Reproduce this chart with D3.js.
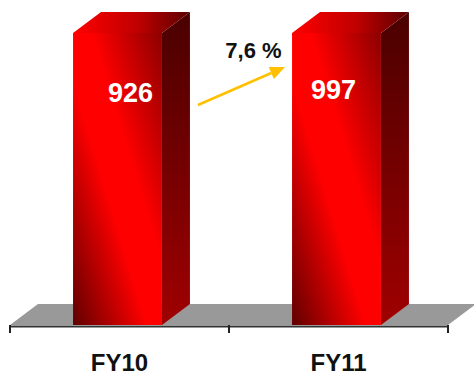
<!DOCTYPE html>
<html>
<head>
<meta charset="utf-8">
<script src="https://cdn.jsdelivr.net/npm/d3@7"></script>
<style>
  html, body { margin: 0; padding: 0; background: #fff; }
  svg { display: block; font-family: "Liberation Sans", Arial, sans-serif; }
</style>
</head>
<body>
<div id="chart"></div>
<script>
// data
var categories = ["FY10", "FY11"]
var values = [926, 997]
var valueLabels = ["926", "997"]
var growthLabel = "7,6 %"

var W = 474, H = 378
var depthX = 28, depthY = 21   // 3d offset of the back faces

var svg = d3.select("#chart")
  .append("svg")
    .attr("width", W)
    .attr("height", H)

// x: band scale over the floor, y: axis max set below both values so the bars are cut at the top
var x = d3.scaleBand()
  .domain(categories)
  .range([8, 446])
  .paddingInner(0.594)
  .paddingOuter(0.297)

var y = d3.scaleLinear()
  .domain([0, 900])
  .range([325, 33])
  .clamp(true)

var defs = svg.append("defs")

var frontGrad = defs.append("linearGradient")
    .attr("id", "gFront")
    .attr("x1", 0).attr("y1", 1).attr("x2", 1).attr("y2", 0)
frontGrad.append("stop").attr("offset", 0).attr("stop-color", "#600000")
frontGrad.append("stop").attr("offset", 0.42).attr("stop-color", "#ff0000")
frontGrad.append("stop").attr("offset", 0.6).attr("stop-color", "#ff0000")
frontGrad.append("stop").attr("offset", 1).attr("stop-color", "#8c0000")

var sideGrad = defs.append("linearGradient")
    .attr("id", "gSide")
    .attr("x1", 0).attr("y1", 0).attr("x2", 0).attr("y2", 1)
sideGrad.append("stop").attr("offset", 0).attr("stop-color", "#4a0000")
sideGrad.append("stop").attr("offset", 1).attr("stop-color", "#a00000")

var topGrad = defs.append("linearGradient")
    .attr("id", "gTop")
    .attr("x1", 0).attr("y1", 0).attr("x2", 1).attr("y2", 0)
topGrad.append("stop").attr("offset", 0).attr("stop-color", "#ff0000")
topGrad.append("stop").attr("offset", 0.55).attr("stop-color", "#c00000")
topGrad.append("stop").attr("offset", 1).attr("stop-color", "#5a0000")

// floor
var x0 = 10, x1 = 448, y0 = y(0)
svg.append("path")
  .attr("d", "M" + x0 + "," + y0 + "L" + x1 + "," + y0 +
    "L" + (x1 + depthX) + "," + (y0 - depthY) + "L" + (x0 + depthX) + "," + (y0 - depthY) + "Z")
  .attr("fill", "#999999")

// axis line and ticks at the band edges
svg.append("line")
  .attr("x1", x0).attr("x2", x1)
  .attr("y1", y0 + 1.5).attr("y2", y0 + 1.5)
  .attr("stroke", "#333").attr("stroke-width", 2)
d3.range(categories.length + 1).forEach(function(i) {
  var tx = x0 + i * (x1 - x0) / categories.length
  svg.append("line")
    .attr("x1", tx).attr("x2", tx)
    .attr("y1", y0).attr("y2", y0 + 8)
    .attr("stroke", "#222").attr("stroke-width", 2)
})

// bars
var bars = svg.selectAll("g.bar")
  .data(categories)
  .enter()
  .append("g")
    .attr("class", "bar")

bars.append("path")   // side
  .attr("d", function(d, i) {
    var r = x(d) + x.bandwidth(), t = y(values[i])
    return "M" + r + "," + y0 + "L" + (r + depthX) + "," + (y0 - depthY) +
      "L" + (r + depthX) + "," + (t - depthY) + "L" + r + "," + t + "Z"
  })
  .attr("fill", "url(#gSide)")

bars.append("path")   // top
  .attr("d", function(d, i) {
    var l = x(d), r = l + x.bandwidth(), t = y(values[i])
    return "M" + l + "," + t + "L" + r + "," + t +
      "L" + (r + depthX) + "," + (t - depthY) + "L" + (l + depthX) + "," + (t - depthY) + "Z"
  })
  .attr("fill", "url(#gTop)")

bars.append("rect")   // front
  .attr("x", function(d) { return x(d) })
  .attr("y", function(d, i) { return y(values[i]) })
  .attr("width", x.bandwidth())
  .attr("height", function(d, i) { return y0 - y(values[i]) })
  .attr("fill", "url(#gFront)")

// value labels inside the bars
var labelNudge = [[13, 1], [-3, -2]]
bars.append("text")
  .attr("x", function(d, i) { return x(d) + x.bandwidth() / 2 + labelNudge[i][0] })
  .attr("y", function(d, i) { return y(values[i]) + 68 + labelNudge[i][1] })
  .attr("text-anchor", "middle")
  .attr("fill", "#fff")
  .attr("font-weight", "bold")
  .attr("font-size", 27)
  .text(function(d, i) { return valueLabels[i] })

// category labels
svg.selectAll("text.cat")
  .data(categories)
  .enter()
  .append("text")
    .attr("class", "cat")
    .attr("x", function(d) { return x(d) + x.bandwidth() / 2 + 2 })
    .attr("y", 371)
    .attr("text-anchor", "middle")
    .attr("font-weight", "bold")
    .attr("font-size", 24)
    .attr("fill", "#111")
    .text(function(d) { return d })

// growth arrow between the bars
var ax1 = x(categories[0]) + x.bandwidth() + depthX + 8
var ay1 = y(values[0]) + 72
var ax2 = x(categories[1]) - 7
var ay2 = y(values[1]) + 34
var ang = Math.atan2(ay2 - ay1, ax2 - ax1)
var headLen = 15, headW = 6.5
var bx = ax2 - headLen * Math.cos(ang), by = ay2 - headLen * Math.sin(ang)
svg.append("line")
  .attr("x1", ax1).attr("y1", ay1)
  .attr("x2", bx).attr("y2", by)
  .attr("stroke", "#ffc000").attr("stroke-width", 2.5)
svg.append("path")
  .attr("d", "M" + ax2 + "," + ay2 +
    "L" + (bx + headW * Math.sin(ang)) + "," + (by - headW * Math.cos(ang)) +
    "L" + (bx - headW * Math.sin(ang)) + "," + (by + headW * Math.cos(ang)) + "Z")
  .attr("fill", "#ffc000")

svg.append("text")
  .attr("x", (ax1 + ax2) / 2 + 12)
  .attr("y", ay2 - 9)
  .attr("text-anchor", "middle")
  .attr("font-weight", "bold")
  .attr("font-size", 22)
  .attr("fill", "#111")
  .text(growthLabel)
</script>
</body>
</html>
